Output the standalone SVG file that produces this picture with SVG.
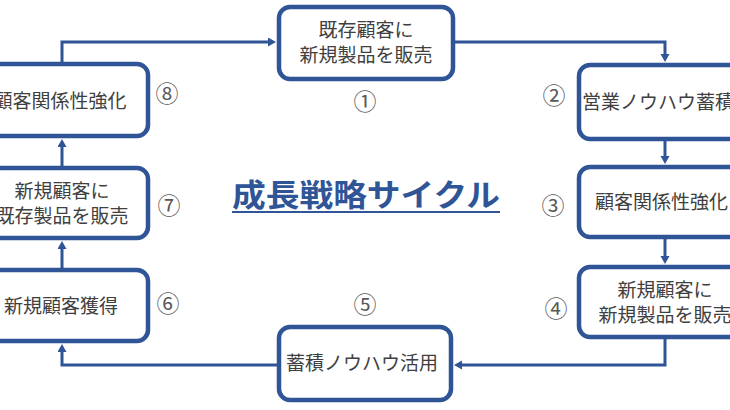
<svg xmlns="http://www.w3.org/2000/svg" width="730" height="410" viewBox="0 0 730 410">
<style>
.box{fill:#ffffff;stroke:#2F5597;stroke-width:4.5}
.t{font-family:"Noto Sans CJK JP","Noto Sans",sans-serif;font-size:19px;fill:#404040;text-anchor:middle}
.n{font-family:"Noto Sans CJK JP","Noto Sans",sans-serif;font-size:23px;fill:#595959;text-anchor:middle}
.c{fill:none;stroke:#2F5597;stroke-width:3}
.title{font-family:"Noto Sans CJK JP","Noto Sans",sans-serif;font-size:31px;font-weight:bold;fill:#2F5597;text-anchor:middle}
</style>
<defs>
<marker id="arr" markerUnits="userSpaceOnUse" markerWidth="10" markerHeight="10" refX="1" refY="4.5" orient="auto">
<path d="M0,0 L8,4.5 L0,9 z" fill="#2F5597"/>
</marker>
</defs>
<rect width="730" height="410" fill="#ffffff"/>
<g id="connectors">
<path class="c" d="M62,62 V42 H269" marker-end="url(#arr)"/>
<path class="c" d="M455,42 H665 V55" marker-end="url(#arr)"/>
<path class="c" d="M665,141 V157" marker-end="url(#arr)"/>
<path class="c" d="M665,239 V257" marker-end="url(#arr)"/>
<path class="c" d="M665,339 V365 H461" marker-end="url(#arr)"/>
<path class="c" d="M277,365 H62 V351" marker-end="url(#arr)"/>
<path class="c" d="M62,268 V248" marker-end="url(#arr)"/>
<path class="c" d="M62,166 V146" marker-end="url(#arr)"/>
</g>
<g id="node1">
<rect class="box" x="279" y="7" width="174" height="72" rx="11"/>
<text class="t" x="366" y="37">既存顧客に</text>
<text class="t" x="366" y="62">新規製品を販売</text>
</g>
<g id="node2">
<rect class="box" x="579" y="65" width="180" height="74" rx="11"/>
<text class="t" x="582" y="109" style="text-anchor:start">営業ノウハウ蓄積</text>
</g>
<g id="node3">
<rect class="box" x="579" y="167" width="180" height="70" rx="11"/>
<text class="t" x="595" y="209" style="text-anchor:start">顧客関係性強化</text>
</g>
<g id="node4">
<rect class="box" x="579" y="267" width="180" height="70" rx="11"/>
<text class="t" x="665" y="297">新規顧客に</text>
<text class="t" x="665" y="322">新規製品を販売</text>
</g>
<g id="node5">
<rect class="box" x="279" y="327" width="172" height="73" rx="11"/>
<text class="t" x="362" y="370">蓄積ノウハウ活用</text>
</g>
<g id="node6">
<rect class="box" x="-27" y="270" width="175" height="71" rx="11"/>
<text class="t" x="61" y="313">新規顧客獲得</text>
</g>
<g id="node7">
<rect class="box" x="-27" y="168" width="175" height="70" rx="11"/>
<text class="t" x="62" y="198">新規顧客に</text>
<text class="t" x="62" y="223">既存製品を販売</text>
</g>
<g id="node8">
<rect class="box" x="-27" y="64" width="175" height="72" rx="11"/>
<text class="t" x="60" y="108">顧客関係性強化</text>
</g>
<g id="numbers">
<text class="n" x="365" y="110">①</text>
<text class="n" x="554" y="104">②</text>
<text class="n" x="553" y="214">③</text>
<text class="n" x="556" y="317">④</text>
<text class="n" x="365" y="313">⑤</text>
<text class="n" x="168" y="312">⑥</text>
<text class="n" x="169" y="214">⑦</text>
<text class="n" x="167" y="102">⑧</text>
</g>
<g id="title">
<text class="title" x="366" y="206" textLength="268" lengthAdjust="spacingAndGlyphs">成長戦略サイクル</text>
<line x1="232" y1="212" x2="500" y2="212" stroke="#2F5597" stroke-width="2"/>
</g>
</svg>
